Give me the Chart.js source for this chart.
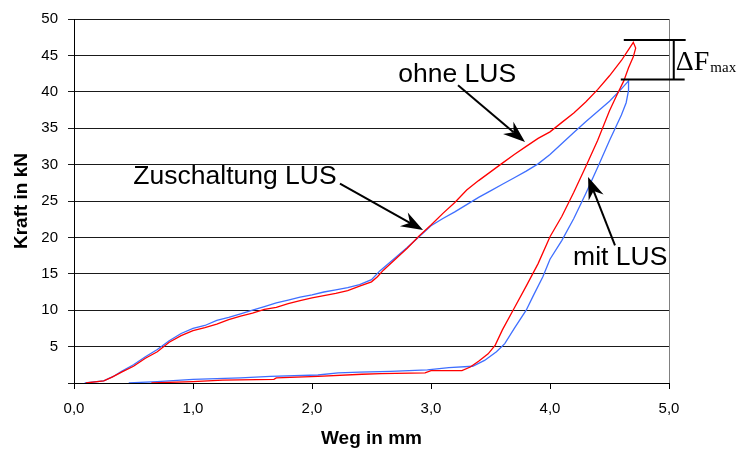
<!DOCTYPE html>
<html>
<head>
<meta charset="utf-8">
<script src="https://cdn.jsdelivr.net/npm/chart.js@4"></script>
<style>
  html, body { margin: 0; background: #fff; }
  #wrap { width: 752px; height: 451px; }
</style>
</head>
<body>
<div id="wrap"><canvas id="c"></canvas></div>
<script>
// ohne LUS (red): loading up to the peak, then unloading back along the bottom
const redX = [0.10,0.25,0.32,0.40,0.50,0.60,0.70,0.80,0.90,1.00,1.10,1.20,1.30,1.40,1.50,1.60,1.70,1.80,1.90,2.00,
  2.10,2.20,2.30,2.40,2.50,2.55,2.60,2.70,2.80,2.90,3.00,3.10,3.20,3.30,3.40,3.50,3.60,3.70,3.80,3.90,
  4.00,4.10,4.20,4.30,4.40,4.50,4.60,4.66,4.70,
  4.72,4.70,4.66,4.62,4.56,4.50,4.40,4.30,4.20,4.10,4.00,3.90,3.80,3.70,3.60,3.54,3.48,3.40,3.33,3.26,
  3.00,2.95,2.58,2.42,2.05,1.70,1.68,1.25,1.00,0.65];
const redY = [0.0,0.3,0.8,1.5,2.3,3.4,4.3,5.6,6.5,7.2,7.6,8.1,8.7,9.2,9.6,10.1,10.4,10.9,11.3,11.7,
  12.0,12.3,12.7,13.3,13.9,14.6,15.5,17.0,18.5,20.2,21.7,23.3,24.8,26.5,27.8,29.0,30.2,31.4,32.5,33.6,
  34.5,35.8,37.1,38.6,40.3,42.2,44.3,45.8,46.8,
  46.0,44.8,43.3,41.5,39.5,37.4,33.3,29.7,26.2,22.9,20.1,16.4,13.3,10.3,7.3,5.2,4.0,3.0,2.2,1.7,
  1.7,1.4,1.3,1.2,0.9,0.7,0.5,0.4,0.2,0.0];

// mit LUS (blue)
const blueX = [0.09,0.25,0.33,0.40,0.50,0.60,0.70,0.80,0.90,1.00,1.10,1.20,1.30,1.40,1.50,1.60,1.70,1.80,1.90,2.00,
  2.10,2.20,2.30,2.40,2.50,2.57,2.70,2.80,2.90,3.00,3.10,3.20,3.30,3.40,3.50,3.60,3.70,3.80,3.90,
  4.00,4.10,4.20,4.30,4.40,4.50,4.60,4.66,
  4.66,4.64,4.60,4.50,4.40,4.30,4.20,4.10,4.00,3.94,3.86,3.80,3.70,3.62,3.55,3.45,3.35,3.15,
  2.97,2.66,2.40,2.22,2.05,1.65,1.40,1.00,0.70,0.46];
const blueY = [0.0,0.3,0.9,1.6,2.5,3.6,4.6,5.8,6.8,7.5,7.9,8.6,9.0,9.5,10.0,10.5,11.0,11.4,11.8,12.1,
  12.5,12.8,13.1,13.5,14.2,15.4,17.2,18.6,20.1,21.6,22.6,23.5,24.5,25.5,26.4,27.3,28.2,29.1,30.1,
  31.4,32.9,34.4,35.9,37.3,38.7,40.4,41.5,
  40.2,38.5,36.8,33.3,29.6,26.0,22.6,19.6,17.0,14.6,12.0,10.0,7.5,5.4,4.3,3.1,2.3,2.1,
  1.8,1.6,1.5,1.4,1.1,0.9,0.7,0.5,0.2,0.0];

const xTickVals = [0, 1, 2, 3, 4, 5];

// annotations (data coordinates)
const notes = [
  { text: 'ohne LUS', x: 3.22, y: 42.4 },
  { text: 'Zuschaltung LUS', x: 1.353, y: 28.3 },
  { text: 'mit LUS', x: 4.59, y: 17.2 }
];
const arrows = [
  { from: [3.227, 40.9], to: [3.79, 33.1] },
  { from: [2.235, 27.4], to: [2.933, 21.0] },
  { from: [4.546, 18.9], to: [4.32, 28.3] }
];
const dF = { top: 47.1, bottom: 41.7, x1: 4.62, x2: 5.14, xv: 5.04 };

const toPts = (xs, ys) => xs.map((x, i) => ({ x: x, y: ys[i] }));

const annot = {
  id: 'annot',
  afterDatasetsDraw(chart) {
    const c = chart.ctx, xs = chart.scales.x, ys = chart.scales.y, a = chart.chartArea;
    c.save();
    // right border of plot
    c.strokeStyle = '#808080';
    c.lineWidth = 1;
    c.beginPath();
    c.moveTo(a.right + 0.5, a.top);
    c.lineTo(a.right + 0.5, a.bottom);
    c.stroke();

    c.fillStyle = '#000';
    c.font = '26.5px "Liberation Sans", Arial, sans-serif';
    c.textAlign = 'center';
    c.textBaseline = 'middle';
    notes.forEach(n => c.fillText(n.text, xs.getPixelForValue(n.x), ys.getPixelForValue(n.y)));

    c.strokeStyle = '#000';
    c.lineWidth = 2;
    arrows.forEach(ar => {
      const x0 = xs.getPixelForValue(ar.from[0]), y0 = ys.getPixelForValue(ar.from[1]);
      const x1 = xs.getPixelForValue(ar.to[0]), y1 = ys.getPixelForValue(ar.to[1]);
      const ang = Math.atan2(y1 - y0, x1 - x0);
      const L = 22, W = 8, N = 15;
      const ux = Math.cos(ang), uy = Math.sin(ang);
      c.beginPath();
      c.moveTo(x0, y0);
      c.lineTo(x1 - ux * N, y1 - uy * N);
      c.stroke();
      c.beginPath();
      c.moveTo(x1, y1);
      c.lineTo(x1 - ux * L - uy * W, y1 - uy * L + ux * W);
      c.lineTo(x1 - ux * N, y1 - uy * N);
      c.lineTo(x1 - ux * L + uy * W, y1 - uy * L - ux * W);
      c.closePath();
      c.fill();
    });

    // delta F max bracket
    const yt = ys.getPixelForValue(dF.top), yb = ys.getPixelForValue(dF.bottom);
    const xa = xs.getPixelForValue(dF.x1), xb = xs.getPixelForValue(dF.x2), xv = xs.getPixelForValue(dF.xv);
    c.beginPath();
    c.moveTo(xa, yt); c.lineTo(xb, yt);
    c.moveTo(xa - 3, yb); c.lineTo(xb - 1, yb);
    c.moveTo(xv, yt); c.lineTo(xv, yb);
    c.stroke();
    c.textAlign = 'left';
    c.textBaseline = 'alphabetic';
    c.font = '28px "Liberation Serif", "Times New Roman", serif';
    c.fillText('\u0394F', xv + 2, (yt + yb) / 2 + 10);
    const w = c.measureText('\u0394F').width;
    c.font = '15px "Liberation Serif", "Times New Roman", serif';
    c.fillText('max', xv + 3 + w, (yt + yb) / 2 + 12);
    c.restore();
  }
};

new Chart(document.getElementById('c'), {
  type: 'scatter',
  data: {
    datasets: [
      { label: 'ohne LUS', data: toPts(redX, redY), showLine: true, borderColor: '#ff0000', borderWidth: 1.3, pointRadius: 0, tension: 0 },
      { label: 'mit LUS', data: toPts(blueX, blueY), showLine: true, borderColor: '#3f6fff', borderWidth: 1.3, pointRadius: 0, tension: 0 }
    ]
  },
  options: {
    responsive: true,
    maintainAspectRatio: false,
    animation: false,
    layout: { padding: { left: 0, right: 83, top: 18, bottom: 0 } },
    plugins: { legend: { display: false }, tooltip: { enabled: false } },
    scales: {
      x: {
        type: 'linear', min: 0, max: 5,
        afterBuildTicks: s => { s.ticks = xTickVals.map(v => ({ value: v })); },
        afterFit: s => { s.height = 68; },
        ticks: {
          color: '#000', padding: 11,
          font: { family: '"Liberation Sans", Arial, sans-serif', size: 15 },
          callback: v => v.toFixed(1).replace('.', ',')
        },
        grid: { drawOnChartArea: false, drawTicks: true, tickLength: 6, color: '#000' },
        border: { color: '#000', width: 1 },
        title: {
          display: true, text: 'Weg in mm', color: '#000',
          font: { family: '"Liberation Sans", Arial, sans-serif', size: 19, weight: 'bold' },
          padding: { top: 4, bottom: 1 }
        }
      },
      y: {
        min: 0, max: 50,
        afterFit: s => { s.width = 74; },
        ticks: {
          stepSize: 5, color: '#000', padding: 10,
          font: { family: '"Liberation Sans", Arial, sans-serif', size: 15 },
          callback: v => v === 0 ? '' : v
        },
        grid: { color: '#1a1a1a', lineWidth: 1, tickLength: 6 },
        border: { color: '#000', width: 1 },
        title: {
          display: true, text: 'Kraft in kN', color: '#000',
          font: { family: '"Liberation Sans", Arial, sans-serif', size: 19, weight: 'bold' },
          padding: { top: 10, bottom: 4 }
        }
      }
    }
  },
  plugins: [annot]
});
</script>
</body>
</html>
